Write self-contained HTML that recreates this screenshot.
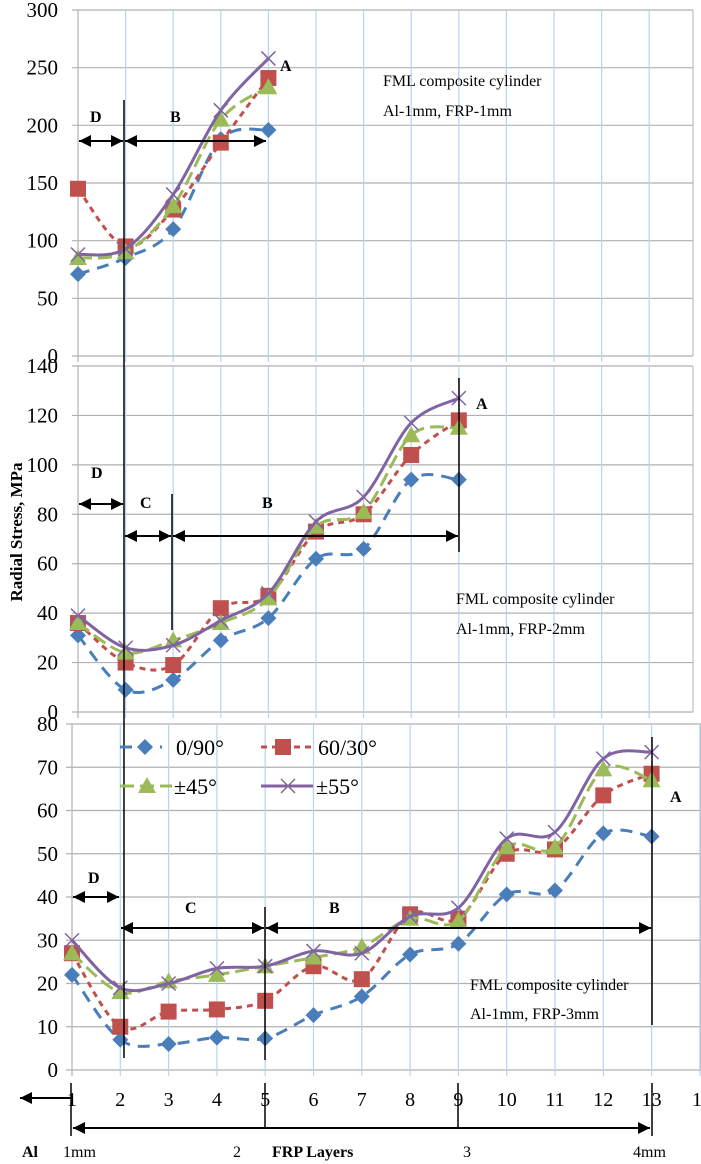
<!DOCTYPE html>
<html><head><meta charset="utf-8"><style>
body{margin:0;background:#fff}
svg{display:block;font-family:"Liberation Serif",serif}
</style></head><body>
<svg id="s" width="701" height="1164" xmlns="http://www.w3.org/2000/svg"></svg>
<script>
const s=document.getElementById('s');let h='';
const C={b:'#4a7ebb',r:'#c0504d',g:'#9bbb59',p:'#8064a2'};
function cr(pts){let d='M'+pts[0][0]+','+pts[0][1];for(let i=0;i<pts.length-1;i++){const p0=pts[i-1]||pts[i],p1=pts[i],p2=pts[i+1],p3=pts[i+2]||p2;const t=1/6;d+=' C'+(p1[0]+(p2[0]-p0[0])*t)+','+(p1[1]+(p2[1]-p0[1])*t)+' '+(p2[0]-(p3[0]-p1[0])*t)+','+(p2[1]-(p3[1]-p1[1])*t)+' '+p2[0]+','+p2[1];}return d;}
function mk(t,x,y){if(t=='b')return `<polygon points="${x},${y-8} ${x+8},${y} ${x},${y+8} ${x-8},${y}" fill="${C.b}"/>`;
if(t=='r')return `<rect x="${x-8}" y="${y-8}" width="16" height="16" fill="${C.r}"/>`;
if(t=='g')return `<polygon points="${x},${y-9} ${x+9},${y+7} ${x-9},${y+7}" fill="${C.g}"/>`;
return `<path d="M${x-7},${y-7}L${x+7},${y+7}M${x-7},${y+7}L${x+7},${y-7}" stroke="${C.p}" stroke-width="1.5"/>`;}
const dash={b:'12,8',r:'6,5',g:'14,6',p:''};
function panel(x0,dx,right,ytop,ybot,max,step,data){
 let n=Math.round(max/step);
 for(let i=0;i<=n;i++){let y=ybot-(ybot-ytop)*i/n;h+=`<line x1="${x0-6}" x2="${right}" y1="${y}" y2="${y}" stroke="#b0b0b0" stroke-width="1.2"/>`;
  h+=`<text x="58" y="${y+7}" font-size="21" text-anchor="end">${i*step}</text>`;}
 for(let k=0;k<14;k++){let x=x0+k*dx;if(x>right)break;h+=`<line x1="${x}" x2="${x}" y1="${ytop}" y2="${ybot+6}" stroke="${k==0?'#b0b0b0':'#b9d3f2'}" stroke-width="1.2"/>`;}
 h+=`<line x1="${right}" x2="${right}" y1="${ytop}" y2="${ybot}" stroke="#b0b0b0"/>`;
 for(const k of ['b','r','g','p']){const pts=data[k].map((v,i)=>[x0+i*dx,ybot-(ybot-ytop)*v/max]);
  h+=`<path d="${cr(pts)}" fill="none" stroke="${C[k]}" stroke-width="3" ${dash[k]?`stroke-dasharray="${dash[k]}"`:''}/>`;
  pts.forEach(p=>h+=mk(k,p[0],p[1]));}
}
panel(78,47.6,693,10,356,300,50,{b:[71,85,110,188,196],r:[145,95,127,185,241],g:[85,90,130,205,233],p:[88,93,140,213,258]});
panel(78,47.6,693,366,712,140,20,{b:[31,9,13,29,38,62,66,94,94],r:[36,20,19,42,47,73,80,104,118],g:[36,24,29,36,46,75,81,112,115],p:[39,26,27,37,48,77,87,117,127]});
panel(72,48.3,701,724,1070,80,10,{b:[22,7,6,7.5,7.3,12.7,17,26.7,29.2,40.6,41.5,54.7,54],r:[27,10,13.5,14,16,24,21,36,35,50,51,63.5,68.5],g:[27,18,20.5,22,24,26,28.5,35,34.5,51.5,51.5,69.5,67],p:[30,19,20,23.5,24,27.5,27,35.5,37.5,53.5,55,72,73.5]});
h+=`<defs><marker id="a" viewBox="0 0 10 10" refX="10" refY="5" markerWidth="6" markerHeight="6" orient="auto-start-reverse"><path d="M0,0L10,5L0,10z" fill="#000"/></marker></defs>`;
function arr(x1,x2,y){h+=`<line x1="${x1+1}" x2="${x2-1}" y1="${y}" y2="${y}" stroke="#000" stroke-width="2" marker-start="url(#a)" marker-end="url(#a)"/>`;}
function vl(x,y1,y2){h+=`<line x1="${x}" x2="${x}" y1="${y1}" y2="${y2}" stroke="#000" stroke-width="1.5"/>`;}
function bt(t,x,y,fs){h+=`<text x="${x}" y="${y}" font-size="${fs||16}" font-weight="bold">${t}</text>`;}
function tx(t,x,y,fs){h+=`<text x="${x}" y="${y}" font-size="${fs||16}">${t}</text>`;}
vl(124,100,1058);
arr(78,124,141);arr(124,267,141);bt('D',90,122);bt('B',170,122);bt('A',280,71);
tx('FML composite cylinder',383,86);tx('Al-1mm, FRP-1mm',383,116);
arr(78,124,504);arr(124,172,536);arr(172,459,536);vl(172,494,630);vl(459,378,552);
bt('D',91,478);bt('C',140,508);bt('B',262,508);bt('A',476,409);
tx('FML composite cylinder',456,604);tx('Al-1mm, FRP-2mm',456,634);
arr(72,120,897);arr(120,265,928);arr(265,652,928);vl(265,907,1060);vl(652,737,1025);
bt('D',88,883);bt('C',185,913);bt('B',329,913);bt('A',670,802);
tx('FML composite cylinder',470,990);tx('Al-1mm, FRP-3mm',470,1019);
function lg(k,x1,x2,mx,y,t,tx0){h+=`<line x1="${x1}" x2="${x2}" y1="${y}" y2="${y}" stroke="${C[k]}" stroke-width="3" ${dash[k]?`stroke-dasharray="${dash[k]}"`:''}/>`+mk(k,mx,y);h+=`<text x="${tx0}" y="${y+8}" font-size="22">${t}</text>`;}
lg('b',120,162,145,747,'0/90°',176);lg('r',261,312,283,747,'60/30°',318);
lg('g',120,172,147,786,'±45°',174);lg('p',261,313,288,786,'±55°',316);
const lbl=['1','2','3','4','5','6','7','8','9','10','11','12','13','1'];
lbl.forEach((t,i)=>{let x=72+i*48.3;if(i==13)x=697;h+=`<text x="${x}" y="1106" font-size="20" text-anchor="middle">${t}</text>`;});
h+=`<line x1="20" x2="71" y1="1098" y2="1098" stroke="#000" stroke-width="2" marker-start="url(#a)"/>`;
vl(71,1083,1136);vl(265,1083,1128);vl(458,1083,1128);vl(652,1083,1136);
arr(72,651,1128);
bt('Al',22,1157,16);tx('1mm',63,1157,16);tx('2',233,1157,16);bt('FRP Layers',272,1157,16);tx('3',463,1157,16);tx('4mm',633,1157,16);
h+=`<text transform="translate(22,532) rotate(-90)" font-size="17" font-weight="bold" text-anchor="middle">Radial Stress, MPa</text>`;
s.innerHTML=h;
</script>
</body></html>
